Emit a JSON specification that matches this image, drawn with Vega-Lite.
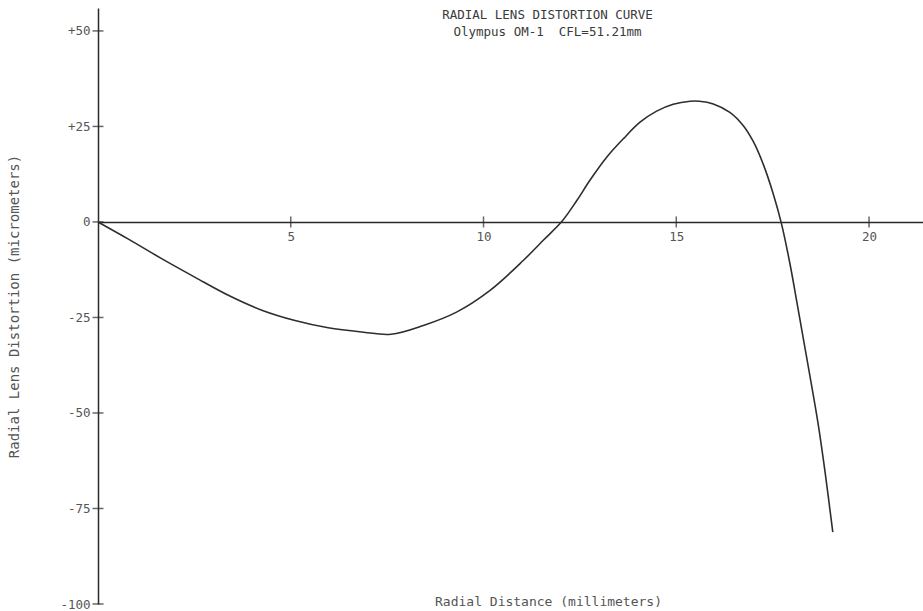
{
  "$schema": "https://vega.github.io/schema/vega-lite/v6.json",
  "width": 825,
  "height": 596,
  "autosize": {"type": "none"},
  "padding": {"left": 98, "top": 8, "right": 0, "bottom": 7},
  "background": "white",
  "config": {"view": {"stroke": null}, "font": "DejaVu Sans Mono"},
  "title": {
    "text": "RADIAL LENS DISTORTION CURVE",
    "subtitle": "Olympus OM-1\u00a0\u00a0CFL=51.21mm",
    "font": "DejaVu Sans Mono",
    "subtitleFont": "DejaVu Sans Mono",
    "fontSize": 12.5,
    "subtitleFontSize": 12.5,
    "fontWeight": "normal",
    "color": "#3a3a3a",
    "subtitleColor": "#3a3a3a",
    "anchor": "middle",
    "dx": 37,
    "offset": -30,
    "subtitlePadding": 4
  },
  "datasets": {
    "curve": [
      {"r": 0.0, "d": 0.0},
      {"r": 0.79, "d": -4.5},
      {"r": 1.65, "d": -9.6},
      {"r": 2.52, "d": -14.5},
      {"r": 3.38, "d": -19.2},
      {"r": 4.25, "d": -23.1},
      {"r": 5.11, "d": -25.8},
      {"r": 5.97, "d": -27.7},
      {"r": 6.84, "d": -28.8},
      {"r": 7.6, "d": -29.4},
      {"r": 8.44, "d": -27.1},
      {"r": 9.3, "d": -23.6},
      {"r": 10.17, "d": -17.9},
      {"r": 11.03, "d": -10.1},
      {"r": 11.55, "d": -4.8},
      {"r": 12.03, "d": 0.1},
      {"r": 12.42, "d": 5.6},
      {"r": 12.76, "d": 10.9},
      {"r": 13.2, "d": 17.0},
      {"r": 13.63, "d": 21.8},
      {"r": 14.06, "d": 26.1},
      {"r": 14.49, "d": 29.0},
      {"r": 14.92, "d": 30.8},
      {"r": 15.36, "d": 31.6},
      {"r": 15.6, "d": 31.6},
      {"r": 15.96, "d": 30.9},
      {"r": 16.39, "d": 28.7},
      {"r": 16.74, "d": 25.2},
      {"r": 17.0, "d": 21.0},
      {"r": 17.26, "d": 15.0},
      {"r": 17.52, "d": 7.2},
      {"r": 17.73, "d": -0.5},
      {"r": 17.95, "d": -11.0},
      {"r": 18.12, "d": -20.5},
      {"r": 18.3, "d": -30.8},
      {"r": 18.47, "d": -40.5},
      {"r": 18.69, "d": -53.5},
      {"r": 18.86, "d": -65.5},
      {"r": 19.06, "d": -81.2}
    ],
    "xticks": [{"r": 5}, {"r": 10}, {"r": 15}, {"r": 20}],
    "yticks": [{"d": -100}, {"d": -75}, {"d": -50}, {"d": -25}, {"d": 0}, {"d": 25}, {"d": 50}]
  },
  "layer": [
    {
      "data": {"name": "curve"},
      "mark": {"type": "line", "color": "#2e2e2e", "strokeWidth": 1.6, "interpolate": "catmull-rom"},
      "encoding": {
        "x": {
          "field": "r",
          "type": "quantitative",
          "scale": {"domain": [0, 21.4], "nice": false, "zero": false},
          "axis": {
            "orient": "bottom",
            "offset": -382,
            "values": [5, 10, 15, 20],
            "grid": false,
            "domainColor": "#2a2a2a",
            "domainWidth": 1.5,
            "ticks": false,
            "labelFont": "DejaVu Sans Mono",
            "labelFontSize": 12.5,
            "labelColor": "#555",
            "labelPadding": 8,
            "title": "Radial Distance (millimeters)",
            "titleFont": "DejaVu Sans Mono",
            "titleFontSize": 13,
            "titleFontWeight": "normal",
            "titleColor": "#555",
            "titleX": 450,
            "titleY": 379,
            "titleBaseline": "middle"
          }
        },
        "y": {
          "field": "d",
          "type": "quantitative",
          "scale": {"domain": [-100, 56], "nice": false, "zero": false},
          "axis": {
            "values": [-100, -75, -50, -25, 0, 25, 50],
            "labelExpr": "datum.value > 0 ? '+' + datum.value : '' + datum.value",
            "grid": false,
            "domainColor": "#2a2a2a",
            "domainWidth": 1.5,
            "ticks": false,
            "labelFont": "DejaVu Sans Mono",
            "labelFontSize": 12.5,
            "labelColor": "#555",
            "labelPadding": 8,
            "title": "Radial Lens Distortion (micrometers)",
            "titleFont": "DejaVu Sans Mono",
            "titleFontSize": 14,
            "titleFontWeight": "normal",
            "titleColor": "#555",
            "titleX": -84,
            "titleBaseline": "middle"
          }
        }
      }
    },
    {
      "data": {"name": "xticks"},
      "mark": {"type": "tick", "orient": "vertical", "size": 11, "thickness": 1.5, "color": "#2a2a2a"},
      "encoding": {
        "x": {"field": "r", "type": "quantitative"},
        "y": {"datum": 0}
      }
    },
    {
      "data": {"name": "yticks"},
      "mark": {"type": "tick", "orient": "horizontal", "size": 11, "thickness": 1.5, "color": "#2a2a2a"},
      "encoding": {
        "x": {"datum": 0},
        "y": {"field": "d", "type": "quantitative"}
      }
    }
  ]
}
